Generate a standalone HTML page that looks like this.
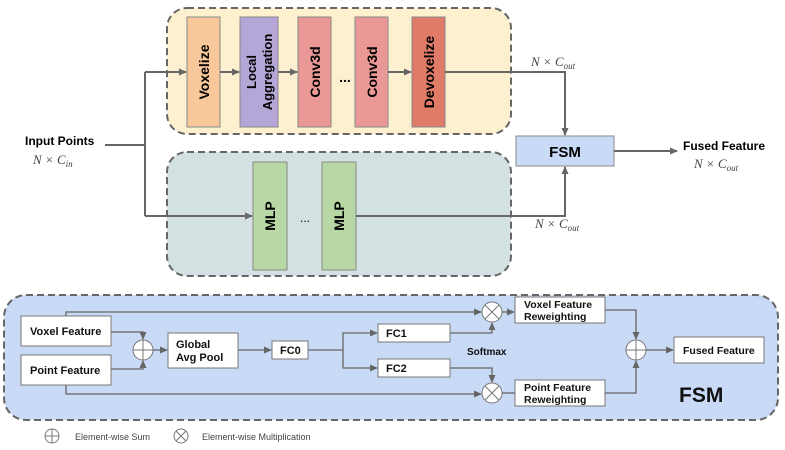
<!DOCTYPE html>
<html><head><meta charset="utf-8"><style>
body{margin:0;background:#fff;}
svg{display:block;font-family:"Liberation Sans",Arial,sans-serif;}
.m{font-family:"Liberation Serif",serif;font-style:italic;fill:#444;}
</style></head><body>
<svg width="785" height="450" viewBox="0 0 785 450">
<defs>
<marker id="a" markerWidth="8" markerHeight="8" refX="7" refY="4" orient="auto" markerUnits="userSpaceOnUse"><path d="M0,0.5 L8,4 L0,7.5z" fill="#666"/></marker>
</defs>
<g stroke="#666" stroke-width="2" stroke-dasharray="7,4">
<rect x="167" y="8" width="344" height="126" rx="20" fill="#fdf0cf"/>
<rect x="167" y="152" width="344" height="124" rx="20" fill="#d3e1e3"/>
<rect x="4" y="295" width="774" height="125" rx="22" fill="#c9daf6"/>
</g>
<g stroke="#888" stroke-width="1">
<rect x="187" y="17" width="33" height="110" fill="#f8c79a"/>
<rect x="240" y="17" width="38" height="110" fill="#b4a6d6"/>
<rect x="298" y="17" width="33" height="110" fill="#e99896"/>
<rect x="355" y="17" width="33" height="110" fill="#e99896"/>
<rect x="412" y="17" width="33" height="110" fill="#df7b67"/>
<rect x="253" y="162" width="34" height="108" fill="#b7d7a4"/>
<rect x="322" y="162" width="34" height="108" fill="#b7d7a4"/>
<rect x="516" y="136" width="98" height="30" fill="#c9daf6"/>
</g>
<g font-size="14" font-weight="bold" text-anchor="middle">
<text transform="translate(209,72) rotate(-90)">Voxelize</text>
<text transform="translate(256,72) rotate(-90)" font-size="13">Local</text>
<text transform="translate(272,72) rotate(-90)" font-size="13">Aggregation</text>
<text transform="translate(320,72) rotate(-90)">Conv3d</text>
<text transform="translate(377,72) rotate(-90)">Conv3d</text>
<text transform="translate(434,72) rotate(-90)">Devoxelize</text>
<text transform="translate(275,216) rotate(-90)">MLP</text>
<text transform="translate(344,216) rotate(-90)">MLP</text>
<text x="565" y="157" font-size="15">FSM</text>
</g>
<text x="345" y="82" font-size="14" font-weight="bold" text-anchor="middle">...</text>
<text x="305" y="222" font-size="12" text-anchor="middle">...</text>
<g stroke="#666" stroke-width="2" fill="none">
<path d="M105,145 H145"/>
<path d="M145,72 V216"/>
<path d="M145,72 H186" marker-end="url(#a)"/>
<path d="M220,72 H239" marker-end="url(#a)"/>
<path d="M278,72 H297" marker-end="url(#a)"/>
<path d="M388,72 H411" marker-end="url(#a)"/>
<path d="M145,216 H252" marker-end="url(#a)"/>
<path d="M445,72 H565 V135" marker-end="url(#a)"/>
<path d="M356,216 H565 V167" marker-end="url(#a)"/>
<path d="M614,151 H677" marker-end="url(#a)"/>
</g>
<text x="25" y="145" font-size="12" font-weight="bold">Input Points</text>
<text x="33" y="164" font-size="13" class="m">N × C<tspan font-size="9" dy="3">in</tspan></text>
<text x="531" y="66" font-size="13" class="m">N × C<tspan font-size="9" dy="3">out</tspan></text>
<text x="535" y="228" font-size="13" class="m">N × C<tspan font-size="9" dy="3">out</tspan></text>
<text x="683" y="150" font-size="12" font-weight="bold">Fused Feature</text>
<text x="694" y="168" font-size="13" class="m">N × C<tspan font-size="9" dy="3">out</tspan></text>
<g stroke="#666" stroke-width="1.3" fill="none">
<path d="M66,316 V312 H481" marker-end="url(#a)"/>
<path d="M66,385 V394 H481" marker-end="url(#a)"/>
<path d="M111,332 H143 V339" marker-end="url(#a)"/>
<path d="M111,369 H143 V361" marker-end="url(#a)"/>
<path d="M153,350 H167" marker-end="url(#a)"/>
<path d="M238,350 H271" marker-end="url(#a)"/>
<path d="M308,350 H343 V333 H377" marker-end="url(#a)"/>
<path d="M343,350 V368 H377" marker-end="url(#a)"/>
<path d="M450,333 H492 V323" marker-end="url(#a)"/>
<path d="M450,368 H492 V382" marker-end="url(#a)"/>
<path d="M502,312 H514" marker-end="url(#a)"/>
<path d="M502,393 H515"/>
<path d="M605,310 H636 V339" marker-end="url(#a)"/>
<path d="M605,393 H636 V361" marker-end="url(#a)"/>
<path d="M646,350 H673" marker-end="url(#a)"/>
</g>
<g stroke="#777" stroke-width="1" fill="#fff">
<rect x="21" y="316" width="90" height="30"/>
<rect x="21" y="355" width="90" height="30"/>
<rect x="168" y="333" width="70" height="35"/>
<rect x="272" y="341" width="36" height="18"/>
<rect x="378" y="324" width="72" height="18"/>
<rect x="378" y="359" width="72" height="18"/>
<rect x="515" y="297" width="90" height="26"/>
<rect x="515" y="380" width="90" height="26"/>
<rect x="674" y="337" width="90" height="26"/>
</g>
<g stroke="#777" stroke-width="1" fill="#fff">
<circle cx="143" cy="350" r="10"/><path d="M133,350H153M143,340V360"/>
<circle cx="636" cy="350" r="10"/><path d="M626,350H646M636,340V360"/>
<circle cx="492" cy="312" r="10"/><path d="M485,305L499,319M499,305L485,319"/>
<circle cx="492" cy="393" r="10"/><path d="M485,386L499,400M499,386L485,400"/>
<circle cx="52" cy="436" r="7" fill="none"/><path d="M45,436H59M52,429V443"/>
<circle cx="181" cy="436" r="7" fill="none"/><path d="M176,431L186,441M186,431L176,441"/>
</g>
<g font-size="11" font-weight="bold" fill="#111">
<text x="30" y="335">Voxel Feature</text>
<text x="30" y="374">Point Feature</text>
<text x="176" y="348">Global</text>
<text x="176" y="361">Avg Pool</text>
<text x="280" y="354">FC0</text>
<text x="386" y="337">FC1</text>
<text x="386" y="372">FC2</text>
<text x="467" y="355" font-size="10">Softmax</text>
<text x="524" y="308" font-size="10.5">Voxel Feature</text>
<text x="524" y="320" font-size="10.5">Reweighting</text>
<text x="524" y="391" font-size="10.5">Point Feature</text>
<text x="524" y="403" font-size="10.5">Reweighting</text>
<text x="683" y="354" font-size="10.5">Fused Feature</text>
<text x="679" y="402" font-size="21">FSM</text>
</g>
<text x="75" y="440" font-size="9" fill="#444">Element-wise Sum</text>
<text x="202" y="440" font-size="9" fill="#444">Element-wise Multiplication</text>
</svg>
</body></html>
